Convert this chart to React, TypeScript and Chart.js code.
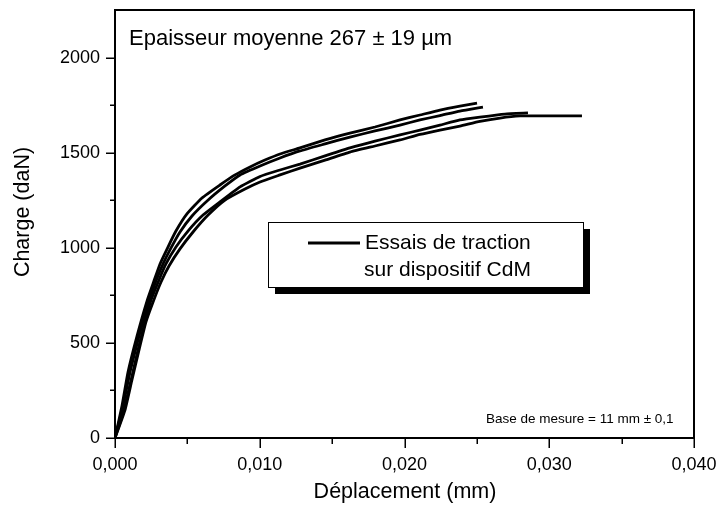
import { useEffect, useRef } from "react";
import { Chart, registerables } from "chart.js";

Chart.register(...registerables);

// Tensile tests: displacement (mm) vs load (daN), four specimens
const displacementA = [0, 0.00048, 0.0009, 0.00152, 0.00221, 0.00269, 0.00311, 0.00366, 0.00421, 0.00497, 0.00601, 0.00725, 0.00829, 0.00933, 0.01036, 0.0114, 0.01278, 0.01451, 0.01623, 0.01796, 0.01969, 0.02107, 0.02245, 0.02383, 0.02501];
const chargeA = [0, 168, 347, 536, 720, 825, 915, 1004, 1088, 1178, 1262, 1330, 1383, 1425, 1461, 1493, 1525, 1567, 1603, 1635, 1672, 1698, 1724, 1745, 1761];

const displacementB = [0, 0.00055, 0.00104, 0.00166, 0.00235, 0.00283, 0.00332, 0.00387, 0.00449, 0.00532, 0.00636, 0.0076, 0.00864, 0.01002, 0.0114, 0.01278, 0.01451, 0.01623, 0.01796, 0.01969, 0.02107, 0.02245, 0.02383, 0.02542];
const chargeB = [0, 168, 347, 536, 720, 825, 915, 999, 1083, 1167, 1246, 1325, 1383, 1430, 1472, 1509, 1546, 1582, 1614, 1645, 1672, 1695, 1719, 1740];

const displacementC = [0, 0.00062, 0.00111, 0.00159, 0.00207, 0.00249, 0.00304, 0.00352, 0.00421, 0.00504, 0.00608, 0.00725, 0.00864, 0.01002, 0.0114, 0.01278, 0.01451, 0.01623, 0.01796, 0.01969, 0.02107, 0.02245, 0.02383, 0.02521, 0.02694, 0.02853];
const chargeC = [0, 147, 305, 463, 610, 725, 831, 915, 1004, 1088, 1172, 1241, 1320, 1375, 1409, 1440, 1483, 1525, 1561, 1593, 1619, 1645, 1672, 1687, 1703, 1709];

const displacementD = [0, 0.00069, 0.00117, 0.00166, 0.00214, 0.00263, 0.00318, 0.00373, 0.00449, 0.00539, 0.00643, 0.0076, 0.00898, 0.01002, 0.0114, 0.01278, 0.01451, 0.01623, 0.01796, 0.01969, 0.02107, 0.02245, 0.02383, 0.02521, 0.0266, 0.02798, 0.02936, 0.03226];
const chargeD = [0, 147, 305, 463, 610, 715, 820, 904, 994, 1083, 1172, 1251, 1309, 1346, 1383, 1419, 1461, 1503, 1535, 1567, 1596, 1619, 1640, 1664, 1682, 1693, 1693, 1693];

const xMajorTicks = [0, 0.01, 0.02, 0.03, 0.04];
const xMinorTicks = [0.005, 0.015, 0.025, 0.035];
const yMajorTicks = [0, 500, 1000, 1500, 2000];
const yMinorTicks = [250, 750, 1250, 1750];

const titleText = "Epaisseur moyenne 267 \u00b1 19 \u00b5m";
const legendLines = ["Essais de traction", "sur dispositif CdM"];
const noteText = "Base de mesure = 11 mm \u00b1 0,1";
const xAxisTitle = "D\u00e9placement (mm)";
const yAxisTitle = "Charge (daN)";

const FONT = "'Liberation Sans', Arial, sans-serif";

function toPoints(xs: number[], ys: number[]) {
  return xs.map((x, i) => ({ x, y: ys[i] }));
}

const decorations = {
  id: "decorations",
  afterDatasetsDraw(chart: any) {
    const { ctx, chartArea, scales } = chart;
    const xs = scales.x;
    const ys = scales.y;
    ctx.save();
    ctx.strokeStyle = "#000";
    ctx.lineWidth = 2;
    ctx.strokeRect(chartArea.left, chartArea.top, chartArea.right - chartArea.left, chartArea.bottom - chartArea.top);

    // outward tick marks
    ctx.lineWidth = 1.5;
    const drawX = (v: number, len: number) => {
      const p = Math.round(xs.getPixelForValue(v)) + 0.25;
      ctx.beginPath();
      ctx.moveTo(p, chartArea.bottom);
      ctx.lineTo(p, chartArea.bottom + len);
      ctx.stroke();
    };
    const drawY = (v: number, len: number) => {
      const p = Math.round(ys.getPixelForValue(v)) + 0.25;
      ctx.beginPath();
      ctx.moveTo(chartArea.left, p);
      ctx.lineTo(chartArea.left - len, p);
      ctx.stroke();
    };
    xMajorTicks.forEach((v) => drawX(v, 10));
    xMinorTicks.forEach((v) => drawX(v, 6));
    yMajorTicks.forEach((v) => drawY(v, 9));
    yMinorTicks.forEach((v) => drawY(v, 5));

    ctx.fillStyle = "#000";
    ctx.textAlign = "left";
    ctx.textBaseline = "alphabetic";

    // heading inside the plot
    ctx.font = `22px ${FONT}`;
    ctx.fillText(titleText, 129, 45);

    // measurement base note
    ctx.font = `13.5px ${FONT}`;
    ctx.fillText(noteText, 486, 423);

    // legend box with drop shadow
    const bx = 268, by = 222, bw = 315, bh = 65;
    ctx.fillStyle = "#000";
    ctx.fillRect(bx + 7, by + 7, bw, bh);
    ctx.fillStyle = "#fff";
    ctx.fillRect(bx, by, bw, bh);
    ctx.lineWidth = 1;
    ctx.strokeStyle = "#000";
    ctx.strokeRect(bx + 0.5, by + 0.5, bw, bh);
    ctx.lineWidth = 2.8;
    ctx.beginPath();
    ctx.moveTo(308, 243);
    ctx.lineTo(360, 243);
    ctx.stroke();
    ctx.fillStyle = "#000";
    ctx.font = `21px ${FONT}`;
    ctx.fillText(legendLines[0], 365, 249);
    ctx.fillText(legendLines[1], 364, 276);

    // axis titles
    ctx.font = `21.5px ${FONT}`;
    ctx.textAlign = "center";
    ctx.textBaseline = "middle";
    ctx.fillText(xAxisTitle, 405, 492);
    ctx.save();
    ctx.translate(23, 212);
    ctx.rotate(-Math.PI / 2);
    ctx.fillText(yAxisTitle, 0, 0);
    ctx.restore();

    ctx.restore();
  },
};

export default function App() {
  const canvasRef = useRef<HTMLCanvasElement | null>(null);

  useEffect(() => {
    if (!canvasRef.current) return;
    const series = [
      [displacementA, chargeA],
      [displacementB, chargeB],
      [displacementC, chargeC],
      [displacementD, chargeD],
    ];
    const chart = new Chart(canvasRef.current, {
      type: "scatter",
      data: {
        datasets: series.map(([xs, ys], i) => ({
          label: `Essai ${i + 1}`,
          data: toPoints(xs, ys),
          showLine: true,
          borderColor: "#000",
          backgroundColor: "#000",
          borderWidth: 2.8,
          pointRadius: 0,
          tension: 0.15,
          fill: false,
        })),
      },
      options: {
        animation: false,
        responsive: false,
        devicePixelRatio: 1,
        layout: { padding: { top: 10, right: 22, left: 0, bottom: 0 } },
        plugins: { legend: { display: false }, tooltip: { enabled: false } },
        scales: {
          x: {
            type: "linear",
            min: 0,
            max: 0.04,
            grid: { display: false, drawTicks: false },
            border: { display: false },
            ticks: {
              color: "#000",
              font: { family: FONT, size: 18 },
              padding: 16,
              maxRotation: 0,
              callback: (v: any) => Number(v).toFixed(3).replace(".", ","),
            },
            afterBuildTicks: (scale: any) => {
              scale.ticks = xMajorTicks.map((value) => ({ value }));
            },
            afterFit: (scale: any) => {
              scale.height = 70;
              scale.paddingLeft = 0;
              scale.paddingRight = 0;
            },
          },
          y: {
            type: "linear",
            min: 0,
            max: 2250,
            grid: { display: false, drawTicks: false },
            border: { display: false },
            ticks: {
              color: "#000",
              font: { family: FONT, size: 18 },
              padding: 15,
              callback: (v: any) => String(v),
            },
            afterBuildTicks: (scale: any) => {
              scale.ticks = yMajorTicks.map((value) => ({ value }));
            },
            afterFit: (scale: any) => {
              scale.width = 115;
              scale.paddingTop = 0;
              scale.paddingBottom = 0;
            },
          },
        },
      },
      plugins: [decorations],
    });
    return () => chart.destroy();
  }, []);

  return (
    <div style={{ position: "absolute", left: 0, top: 0, width: 716, height: 508, background: "#fff" }}>
      <canvas ref={canvasRef} width={716} height={508} />
    </div>
  );
}
